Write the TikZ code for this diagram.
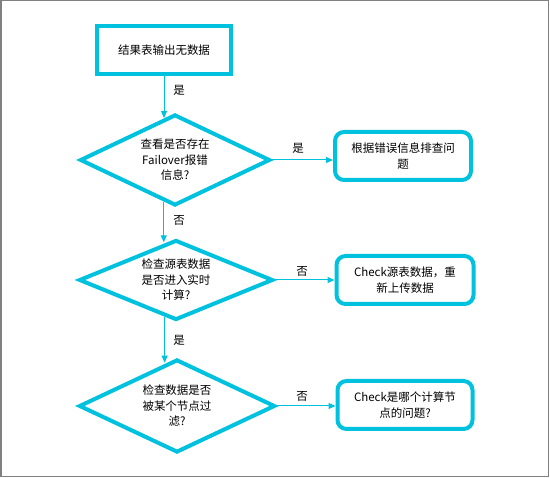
\documentclass[tikz,border=0pt]{standalone}
\usepackage{fontspec}
\newfontfamily\cjk{Noto Sans CJK SC}
\usetikzlibrary{shapes.geometric,arrows.meta}
\definecolor{flowcyan}{HTML}{00C1DE}
\tikzset{
    startbox/.style={draw=flowcyan, line width=4pt, minimum width=134pt, minimum height=48pt, inner sep=0pt, font=\cjk\fontsize{11.5}{15.5}\selectfont},
    askbox/.style={diamond, aspect=2.1, draw=flowcyan, line width=4pt, inner sep=0pt, align=center, font=\cjk\fontsize{11.5}{15.5}\selectfont},
    endbox/.style={draw=flowcyan, line width=4pt, rounded corners=9pt, minimum width=136pt, minimum height=48pt, inner sep=0pt, align=center, font=\cjk\fontsize{11.5}{15.5}\selectfont},
    flowline/.style={draw=flowcyan, line width=1pt, -{Triangle[length=7pt,width=6pt]}},
    answer/.style={font=\cjk\fontsize{11.5}{14}\selectfont}
}
\begin{document}
\begin{tikzpicture}[x=1pt,y=-1pt]
    \useasboundingbox (0,0) rectangle (550,478);
    \draw[line width=1.5pt, color=black!50] (0.75,0.75) rectangle (548.5,476.5);

    \node[startbox] (start) at (164,50) {结果表输出无数据};

    \node[askbox, minimum width=190pt, minimum height=91pt] (failover) at (175,160) {查看是否存在\\Failover报错\\信息?};
    \node[askbox, minimum width=194pt, minimum height=80pt] (source) at (176,280) {检查源表数据\\是否进入实时\\计算?};
    \node[askbox, minimum width=196pt, minimum height=93pt] (filter) at (177,406) {检查数据是否\\被某个节点过\\滤?};

    \node[endbox] (logerr) at (403,156) {根据错误信息排查问\\题};
    \node[endbox, minimum width=137pt] (reload) at (405,280) {Check源表数据，重\\新上传数据};
    \node[endbox, minimum width=135pt] (node) at (405,405) {Check是哪个计算节\\点的问题?};

    % vertical steps
    \draw[flowline] (start.south) -- (start.south |- failover.105);
    \node[answer] (yes1) at (179,90) {是};
    \draw[flowline] (failover.255) -- (failover.255 |- source.105);
    \node[answer] (no1) at (179,220) {否};
    \draw[flowline] (source.253) -- (source.253 |- filter.104);
    \node[answer] (yes2) at (179,340) {是};

    % side steps
    \draw[flowline] (failover.east) -- (logerr.west |- failover.east);
    \node[answer] (yes3) at (298,148) {是};
    \draw[flowline] (source.east) -- (reload.west);
    \node[answer] (no2) at (302,271) {否};
    \draw[flowline] (filter.east) -- (node.west |- filter.east);
    \node[answer] (no3) at (302,396) {否};
\end{tikzpicture}
\end{document}
